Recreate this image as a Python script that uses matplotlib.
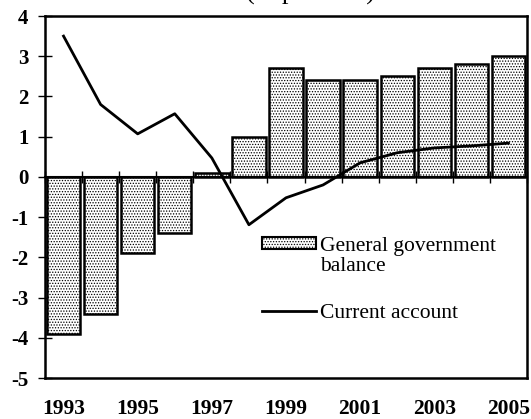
import matplotlib
matplotlib.use("Agg")
import matplotlib.pyplot as plt
from matplotlib.patches import Patch, Rectangle
from matplotlib.lines import Line2D
from matplotlib.legend_handler import HandlerPatch
import numpy as np

years = list(range(1993, 2006))
gov_balance = [-3.9, -3.4, -1.9, -1.4, 0.1, 1.0, 2.7, 2.4, 2.4, 2.5, 2.7, 2.8, 3.0]
current_account = [3.5, 1.8, 1.07, 1.57, 0.47, -1.19, -0.52, -0.2, 0.35, 0.6, 0.72, 0.77, 0.84]
year_labels = ["1993", "1995", "1997", "1999", "2001", "2003", "2005"]
y_ticks = [4, 3, 2, 1, 0, -1, -2, -3, -4, -5]

plt.rcParams['font.family'] = ['Liberation Serif', 'DejaVu Serif']
plt.rcParams['hatch.linewidth'] = 0.6

W, H = 531, 419
fig = plt.figure(figsize=(W / 100, H / 100), dpi=100)
ax = fig.add_axes([45 / W, (H - 378) / H, (527 - 45) / W, (378 - 16) / H])

x = np.arange(len(years))
ax.bar(x, gov_balance, width=0.9, facecolor='white', edgecolor='black',
       hatch='......', linewidth=1.8, zorder=2)
ax.plot(x, current_account, color='black', linewidth=2, zorder=3)

ax.set_xlim(-0.5, len(years) - 0.5)
ax.set_ylim(-5, 4)

# x axis at zero with ticks at category boundaries
ax.spines['bottom'].set_position(('data', 0))
ax.spines['bottom'].set_linewidth(1.5)
ax.set_xticks(np.arange(len(years) + 1) - 0.5)
ax.tick_params(axis='x', direction='inout', length=8, width=1, labelbottom=False)

for s in ['left', 'right', 'top']:
    ax.spines[s].set_linewidth(1.8)

ax.set_yticks(y_ticks)
ax.set_yticklabels([str(v) for v in y_ticks])
ax.tick_params(axis='y', direction='inout', length=10, width=1, pad=7, labelsize=15)
for t in ax.get_yticklabels():
    t.set_fontweight('bold')

sec = ax.secondary_xaxis(0)
sec.set_xticks([years.index(int(l)) for l in year_labels])
sec.set_xticklabels(year_labels)
sec.tick_params(length=0, pad=15, labelsize=15.5)
for t in sec.get_xticklabels():
    t.set_fontweight('bold')
sec.spines['bottom'].set_linewidth(1.8)


def top_patch(legend, orig_handle, xdescent, ydescent, width, height, fontsize):
    return Rectangle((-xdescent, -ydescent + 0.6 * fontsize), width, height)


handles = [Patch(facecolor='white', edgecolor='black', hatch='......', linewidth=1.5),
           Line2D([0], [0], color='black', linewidth=2)]
labels = ['General government\nbalance', 'Current account']
leg = ax.legend(handles, labels, loc='upper left',
                bbox_to_anchor=((262 - 45) / (527 - 45), (378 - 237) / (378 - 16)),
                frameon=False, fontsize=15.5, handlelength=2.5, handleheight=0.5,
                handletextpad=0.2, labelspacing=1.3, borderaxespad=0, borderpad=0,
                handler_map={Patch: HandlerPatch(patch_func=top_patch)})
for t in leg.get_texts():
    t.set_linespacing(1.1)

fig.text(311 / W, 1.0, '(in per cent)', ha='center', va='baseline', fontsize=19)

fig.savefig('out.png', dpi=100)
